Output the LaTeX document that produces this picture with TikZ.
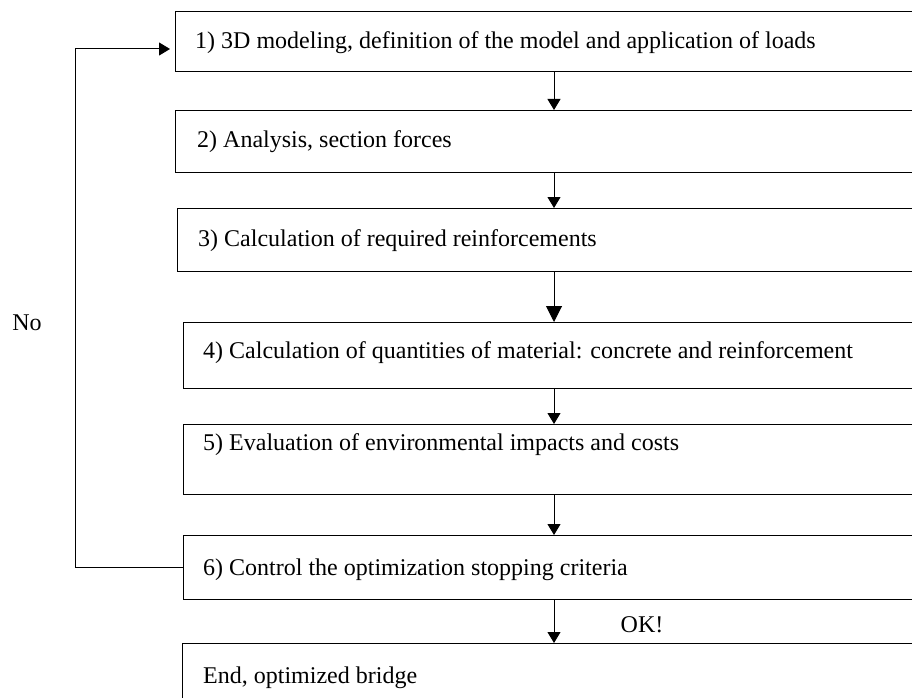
\documentclass[tikz,border=0pt]{standalone}
\usepackage{fontspec}
\setmainfont{Liberation Serif}
\usetikzlibrary{positioning,arrows.meta}

\tikzset{
  stepbox/.style={draw, line width=1.2pt, anchor=north west, minimum width=760pt, inner sep=0pt},
  steptext/.style={anchor=west, inner sep=0pt, font=\fontsize{24}{28}\selectfont},
  flow/.style={line width=1pt, -{Triangle[length=11pt,width=13pt]}}
}

\begin{document}
\begin{tikzpicture}[x=1pt, y=-1pt]
  \useasboundingbox (0,0) rectangle (912,698);
  \clip (0,0) rectangle (912,698);
  % the steps
  \node[stepbox, minimum height=60pt] (b1) at (175,11) {};
  \node[stepbox, minimum height=62pt] (b2) at (175,110) {};
  \node[stepbox, minimum height=63pt] (b3) at (177,208) {};
  \node[stepbox, minimum height=66pt] (b4) at (183,322) {};
  \node[stepbox, minimum height=70pt] (b5) at (183,424) {};
  \node[stepbox, minimum height=64pt] (b6) at (183,535) {};
  \node[stepbox, minimum height=70pt] (b7) at (182,643) {};
  % texts
  \node[steptext] (t1) at (195,43) {1) 3D modeling, definition of the model and application of loads};
  \node[steptext] (t2) at (197,142) {2) Analysis, section forces};
  \node[steptext] (t3) at (198,241) {3) Calculation of required reinforcements};
  \node[steptext] (t4) at (203,353) {4) Calculation of quantities of material: concrete and reinforcement};
  \node[steptext] (t5) at (203,445) {5) Evaluation of environmental impacts and costs};
  \node[steptext] (t6) at (203,570) {6) Control the optimization stopping criteria};
  \node[steptext] (t7) at (203,678) {End, optimized bridge};
  \node[steptext, anchor=center] (no) at (27,323) {No};
  \node[steptext, anchor=center] (ok) at (642,625) {OK!};
  % arrows between steps
  \coordinate (ax) at (554,0);
  \draw[flow] (b1.south -| ax) -- (b2.north -| ax);
  \draw[flow] (b2.south -| ax) -- (b3.north -| ax);
  \draw[line width=1pt, -{Triangle[length=16pt,width=16pt]}] (b3.south -| ax) -- (b4.north -| ax);
  \draw[flow] (b4.south -| ax) -- (b5.north -| ax);
  \draw[flow] (b5.south -| ax) -- (b6.north -| ax);
  \draw[flow] (b6.south -| ax) -- (b7.north -| ax);
  % loop back
  \coordinate (lp) at (75,49);
  \draw[flow, shorten >=5pt] (b6.west) -| (lp) -- (b1.west |- lp);
\end{tikzpicture}
\end{document}
